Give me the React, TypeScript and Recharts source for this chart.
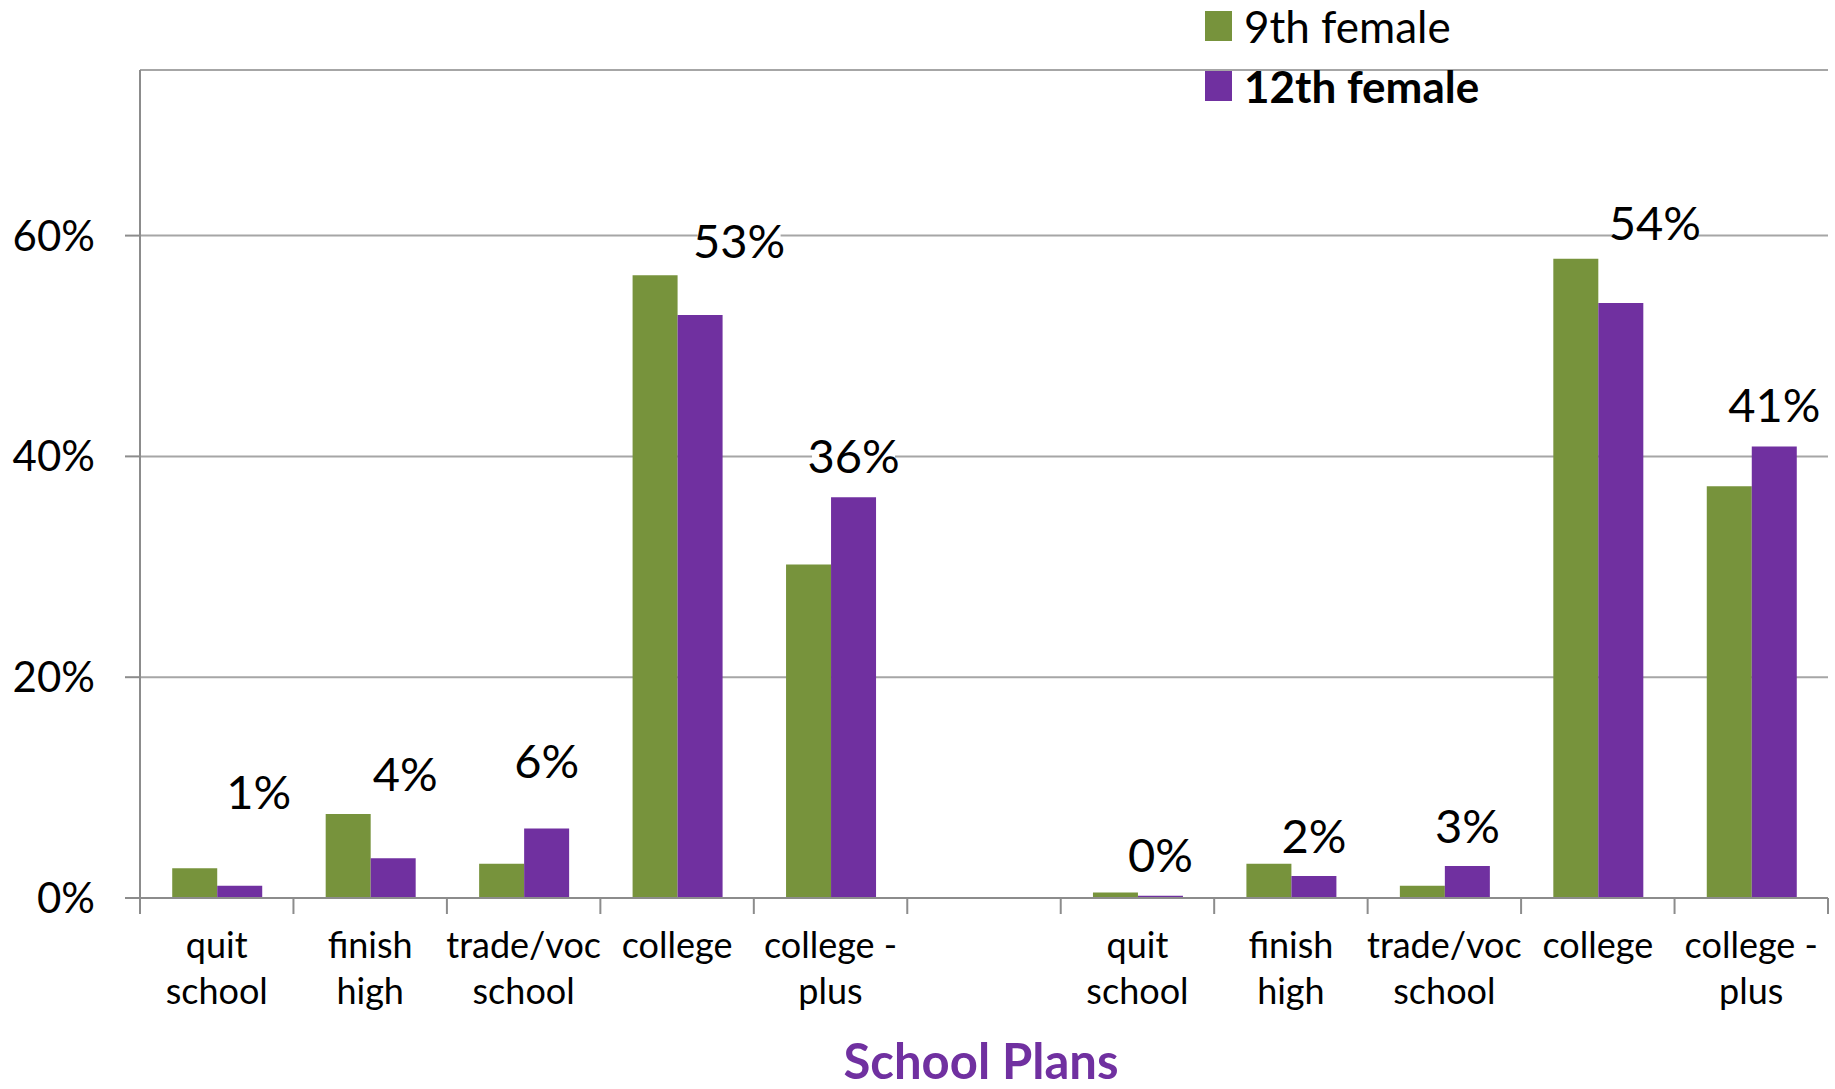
import { BarChart, Bar, XAxis, YAxis, CartesianGrid, LabelList } from "recharts";

// two panels of 5 plans, separated by an empty slot
const categories = [
  "quit\nschool",
  "finish\nhigh",
  "trade/voc\nschool",
  "college",
  "college -\nplus",
  "",
  "quit\nschool",
  "finish\nhigh",
  "trade/voc\nschool",
  "college",
  "college -\nplus",
];
const ninthFemale = [0.027, 0.076, 0.031, 0.564, 0.302, null, 0.005, 0.031, 0.011, 0.579, 0.373];
const twelfthFemale = [0.011, 0.036, 0.063, 0.528, 0.363, null, 0.002, 0.02, 0.029, 0.539, 0.409];
const yTicks = [0, 0.2, 0.4, 0.6];

// hand placed data labels (offset from the bar top / centre)
const labelNudgeX = [19, 12, 0, 39, 0, 0, 0, 0, 0, 34, 0];
const labelNudgeY = [-95, -85, -68, -75, -42, 0, -42, -41, -41, -81, -42];

const GREEN = "#77933C";
const PURPLE = "#7030A0";
const AXIS = "#8c8c8c";
const FONT = "Lato, 'Noto Sans', sans-serif";

const W = 1835;
const H = 1089;
const PLOT_LEFT = 140;
const PLOT_RIGHT = 1828;
const BAND = (PLOT_RIGHT - PLOT_LEFT) / categories.length;

const data = categories.map((name, i) => ({
  name,
  ninth: ninthFemale[i],
  twelfth: twelfthFemale[i],
}));

// LabelList skips the empty slot, so map its index back to the category
const labelled = twelfthFemale.map((v, i) => (v == null ? -1 : i)).filter((i) => i >= 0);

function CategoryTick(props: any) {
  const { x, y, payload, index } = props;
  const lines = String(payload.value).split("\n");
  const left = x - BAND / 2;
  const right = x + BAND / 2;
  return (
    <g>
      <line x1={left} x2={left} y1={y} y2={y + 16} stroke={AXIS} strokeWidth={2} />
      {index === categories.length - 1 && (
        <line x1={right} x2={right} y1={y} y2={y + 16} stroke={AXIS} strokeWidth={2} />
      )}
      {lines.map((l, i) => (
        <text
          key={i}
          x={x}
          y={y + 46 + i * 46}
          textAnchor="middle"
          dominantBaseline="central"
          fontSize={36}
          fontFamily={FONT}
          fill="#000"
        >
          {l}
        </text>
      ))}
    </g>
  );
}

function PctLabel(props: any) {
  const { x, y, width, value, index } = props;
  if (value == null) return null;
  const k = labelled[index] ?? index;
  const txt = `${Math.round(value * 100)}%`;
  const cx = x + width / 2 + labelNudgeX[k];
  const cy = y + labelNudgeY[k];
  const w = txt.length * 25 + 8;
  return (
    <g>
      <rect x={cx - w / 2} y={cy - 26} width={w} height={52} fill="#fff" />
      <text
        x={cx}
        y={cy}
        textAnchor="middle"
        dominantBaseline="central"
        fontSize={47}
        fontFamily={FONT}
        fill="#000"
      >
        {txt}
      </text>
    </g>
  );
}

export default function App() {
  return (
    <div style={{ position: "absolute", left: 0, top: 0, width: W, height: H, background: "#fff", fontFamily: FONT }}>
      <BarChart
        width={W}
        height={H}
        data={data}
        margin={{ top: 70, right: W - PLOT_RIGHT, left: 0, bottom: 0 }}
        barCategoryGap="21%"
        barGap={0}
      >
        <CartesianGrid vertical={false} stroke="#a6a6a6" strokeWidth={2} />
        <XAxis
          dataKey="name"
          height={191}
          interval={0}
          tickLine={false}
          tickSize={0}
          tickMargin={0}
          axisLine={{ stroke: AXIS, strokeWidth: 2 }}
          tick={<CategoryTick />}
        />
        <YAxis
          width={PLOT_LEFT}
          domain={[0, 0.75]}
          ticks={yTicks}
          tickSize={15}
          tickMargin={30}
          tickLine={{ stroke: AXIS, strokeWidth: 2 }}
          axisLine={{ stroke: AXIS, strokeWidth: 2 }}
          tickFormatter={(v: number) => `${Math.round(v * 100)}%`}
          tick={{ fill: "#000", fontSize: 42, fontFamily: FONT }}
        />
        <Bar dataKey="ninth" fill={GREEN} isAnimationActive={false} />
        <Bar dataKey="twelfth" fill={PURPLE} isAnimationActive={false}>
          <LabelList dataKey="twelfth" content={<PctLabel />} />
        </Bar>
      </BarChart>

      <div style={{ position: "absolute", left: 1205, top: 0, fontSize: 44, lineHeight: "52px", color: "#000" }}>
        <div style={{ display: "flex", alignItems: "center", marginBottom: 8 }}>
          <span style={{ width: 27, height: 30, background: GREEN, marginRight: 12 }} />
          <span>9th female</span>
        </div>
        <div style={{ display: "flex", alignItems: "center", fontWeight: 700 }}>
          <span style={{ width: 27, height: 30, background: PURPLE, marginRight: 12 }} />
          <span>12th female</span>
        </div>
      </div>

      <div
        style={{
          position: "absolute",
          left: 0,
          width: 1962,
          top: 1032,
          textAlign: "center",
          fontSize: 49,
          lineHeight: "56px",
          fontWeight: 700,
          color: PURPLE,
        }}
      >
        School Plans
      </div>
    </div>
  );
}
